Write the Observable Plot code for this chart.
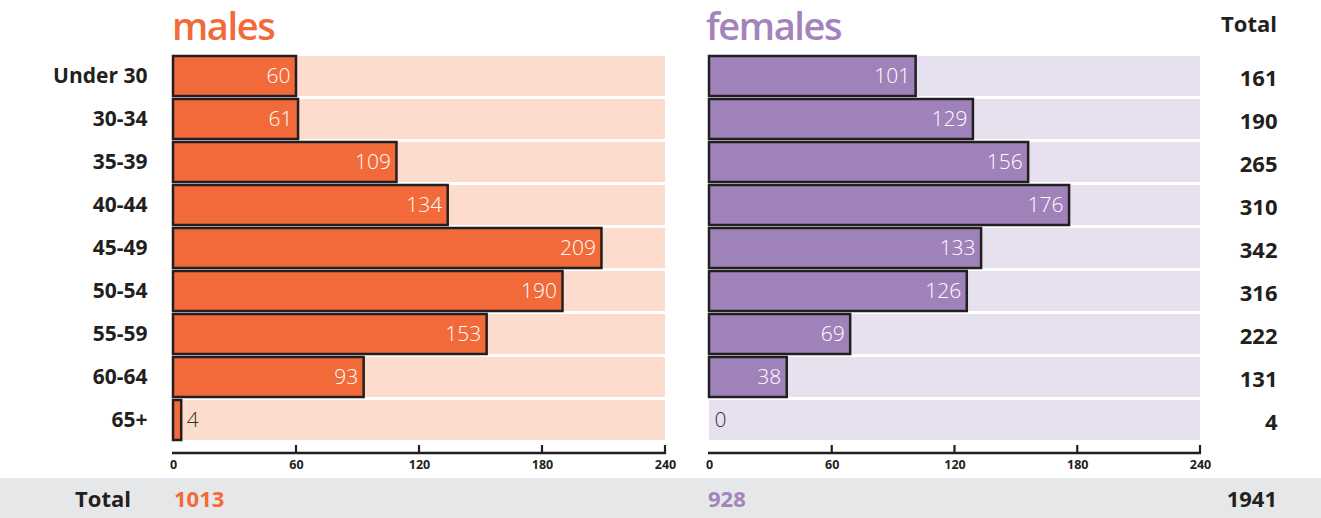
<!DOCTYPE html>
<html>
<head>
<meta charset="utf-8">
<script src="https://cdn.jsdelivr.net/npm/d3@7"></script>
<script src="https://cdn.jsdelivr.net/npm/@observablehq/plot@0.6"></script>
<style>
  body { margin: 0; background: #fff; font-family: "Open Sans", sans-serif; }
  #wrap { position: relative; width: 1321px; height: 518px; overflow: hidden; background: #fff; }
  .title { position: absolute; font-family: "Open Sans", sans-serif; font-weight: 600; font-size: 38px; line-height: 38px; letter-spacing: -1.4px; white-space: nowrap; }
  .hdr { position: absolute; font-weight: 700; font-size: 22px; line-height: 22px; color: #231F20; }
  #totalband { position: absolute; left: 0; top: 478px; width: 1321px; height: 40px; background: #E6E7E8; }
  #totalband div { position: absolute; top: 0; height: 40px; line-height: 40px; font-weight: 700; font-size: 22px; }
  svg [aria-label="y-axis tick label"] text { font-weight: 700; }
</style>
</head>
<body>
<div id="wrap"></div>
<script>
// ---- data ----
const ageGroups = ["Under 30", "30-34", "35-39", "40-44", "45-49", "50-54", "55-59", "60-64", "65+"];
const maleCounts = [60, 61, 109, 134, 209, 190, 153, 93, 4];
const femaleCounts = [101, 129, 156, 176, 133, 126, 69, 38, 0];
const rowTotals = [161, 190, 265, 310, 342, 316, 222, 131, 4];
const maleTotal = 1013;
const femaleTotal = 928;
const grandTotal = 1941;
const xTicks = [0, 60, 120, 180, 240];

const INK = "#231F20";
const wrap = document.getElementById("wrap");
const xMax = xTicks[xTicks.length - 1];

function panel({counts, fill, band, left, width, marginLeft, marginRight, ageLabels, totals}) {
  const rows = ageGroups.map((age, i) => ({age, v: counts[i], total: rowTotals[i]}));
  const height = 478, marginBottom = 25;
  const marks = [
    Plot.barX(rows, {y: "age", x1: 0, x2: xMax, fill: band}),
    Plot.barX(rows.filter(d => d.v > 0), {y: "age", x: "v", fill, stroke: INK, strokeWidth: 2.5}),
    Plot.text(rows.filter(d => d.v >= 20), {y: "age", x: "v", text: d => String(d.v), textAnchor: "end", dx: -6, fill: "#fff", fontSize: 21, fontWeight: 300}),
    Plot.text(rows.filter(d => d.v < 20), {y: "age", x: "v", text: d => String(d.v), textAnchor: "start", dx: 5, fill: "#333", fontSize: 21, fontWeight: 300}),
    Plot.axisX({ticks: xTicks, tickSize: 0, tickPadding: 7, tickFormat: d => String(d), fontSize: 12.5, fontWeight: "bold", color: INK, label: null}),
    (index, scales, values, dims) => {
      const y0 = dims.height - dims.marginBottom;
      const g = d3.create("svg:g").attr("stroke", INK).attr("fill", "none");
      g.append("line")
        .attr("x1", scales.x(0) - 1).attr("x2", scales.x(xMax) + 1)
        .attr("y1", y0).attr("y2", y0)
        .attr("stroke-width", 2.5);
      for (const t of xTicks.slice(1)) {
        g.append("line")
          .attr("x1", scales.x(t)).attr("x2", scales.x(t))
          .attr("y1", y0 + 1).attr("y2", y0 - 8)
          .attr("stroke-width", 2.2);
      }
      return g.node();
    }
  ];
  if (ageLabels) marks.push(Plot.axisY({anchor: "left", tickSize: 0, tickPadding: 26, fontSize: 21, fontWeight: "bold", color: INK, label: null}));
  if (totals) marks.push(Plot.text(rows, {y: "age", x: xMax, dx: 77, dy: 2, text: d => String(d.total), textAnchor: "end", fontSize: 22, fontWeight: "bold", fill: INK}));
  const svg = Plot.plot({
    width, height, marginLeft, marginRight, marginTop: 0, marginBottom,
    style: {fontFamily: "'Open Sans', sans-serif", background: "transparent", overflow: "visible"},
    x: {domain: [0, xMax], label: null},
    y: {domain: ageGroups, range: [54, 442], paddingInner: 0.07, paddingOuter: 0, axis: ageLabels ? undefined : null, label: null},
    marks
  });
  svg.style.position = "absolute";
  svg.style.left = left + "px";
  svg.style.top = "0px";
  wrap.appendChild(svg);
}

// total band
const tb = document.createElement("div");
tb.id = "totalband";
tb.innerHTML = `<div style="right:${1321-131}px;color:${INK}">Total</div>
<div style="left:174px;color:#F26A3A">${maleTotal}</div>
<div style="left:708px;color:#A383BB">${femaleTotal}</div>
<div style="right:${1321-1277}px;color:${INK}">${grandTotal}</div>`;
wrap.appendChild(tb);

panel({counts: maleCounts, fill: "#F26A3A", band: "#FCDDCD", left: 0, width: 680, marginLeft: 173, marginRight: 15, ageLabels: true, totals: false});
panel({counts: femaleCounts, fill: "#A082BA", band: "#E6E0EF", left: 680, width: 641, marginLeft: 29, marginRight: 121, ageLabels: false, totals: true});

// titles
const t1 = document.createElement("div");
t1.className = "title"; t1.textContent = "males";
t1.style.left = "172px"; t1.style.top = "6px"; t1.style.color = "#F26A3A";
wrap.appendChild(t1);
const t2 = document.createElement("div");
t2.className = "title"; t2.textContent = "females";
t2.style.left = "706px"; t2.style.top = "6px"; t2.style.color = "#A383BB";
wrap.appendChild(t2);
const h = document.createElement("div");
h.className = "hdr"; h.textContent = "Total";
h.style.right = (1321 - 1277) + "px"; h.style.top = "12px";
wrap.appendChild(h);
</script>
</body>
</html>
